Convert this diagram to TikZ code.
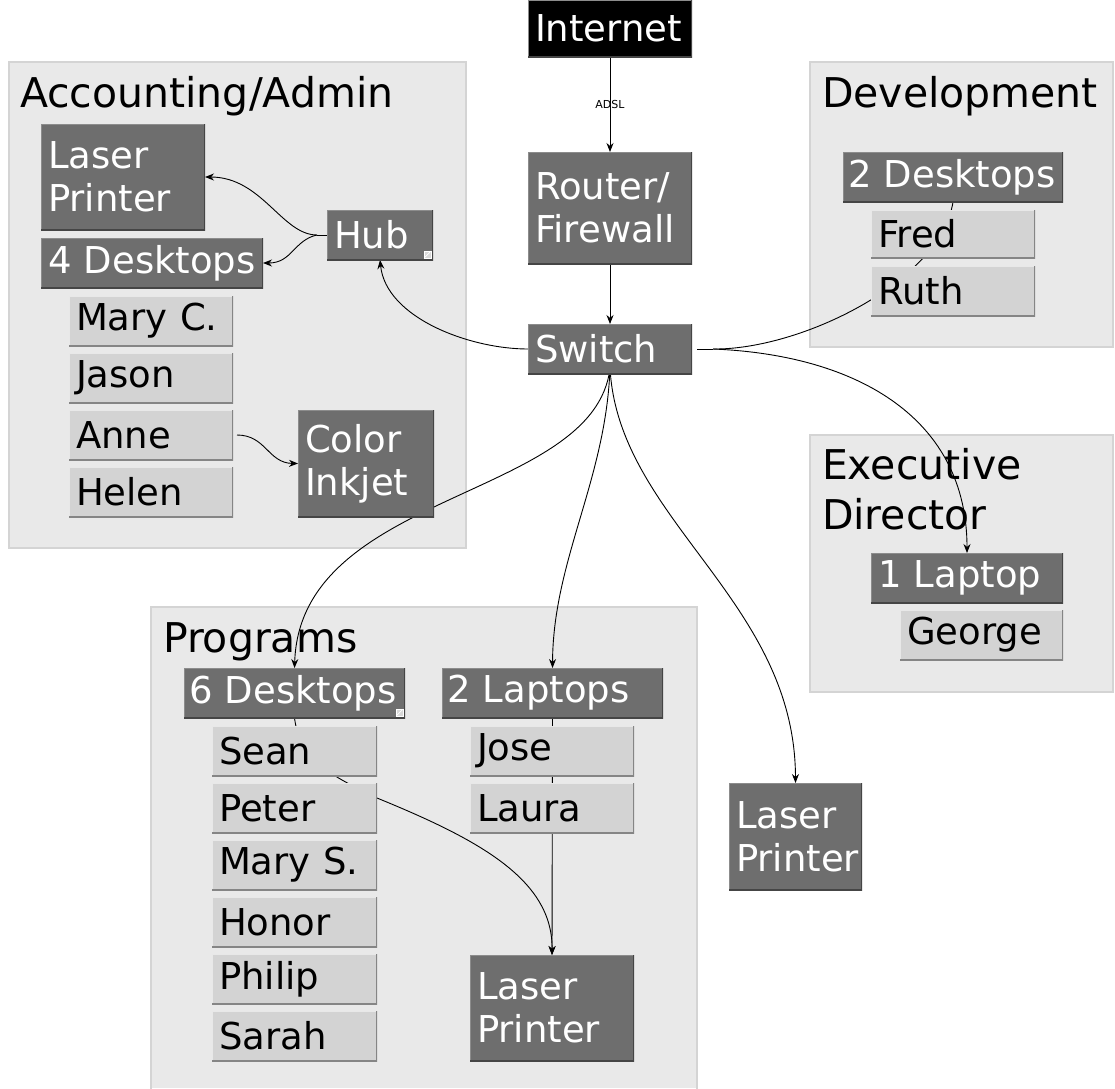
\documentclass[tikz,border=0pt]{standalone}
\usepackage{fontspec}
\setmainfont{DejaVu Sans}
\usetikzlibrary{arrows.meta}
\pgfdeclarelayer{bg}
\pgfdeclarelayer{mid}
\pgfsetlayers{bg,mid,main}
\definecolor{grpfill}{HTML}{E9E9E9}
\definecolor{grpline}{HTML}{D4D4D4}
\definecolor{dnode}{HTML}{6E6E6E}
\definecolor{dhigh}{HTML}{8C8C8C}
\definecolor{dshade}{HTML}{454545}
\definecolor{lnode}{HTML}{D3D3D3}
\definecolor{lhigh}{HTML}{E8E8E8}
\definecolor{lshade}{HTML}{858585}
\tikzset{
  grp/.style={fill=grpfill, draw=grpline, line width=1.5pt},
  grptitle/.style={anchor=base west, inner sep=0pt, outer sep=0pt, align=left, font=\fontsize{41}{50}\selectfont},
  basebox/.style={anchor=north west, inner xsep=7pt, inner ysep=0pt, outer sep=0pt, align=left, font=\fontsize{37}{43}\selectfont},
  dark/.style={basebox, fill=dnode, text=white, path picture={
      \draw[line width=2.5pt, color=dhigh] (path picture bounding box.south west) -- (path picture bounding box.north west) -- (path picture bounding box.north east);
      \draw[line width=3pt, color=dshade] (path picture bounding box.south west) -- (path picture bounding box.south east) -- (path picture bounding box.north east);}},
  light/.style={basebox, fill=lnode, text=black, path picture={
      \draw[line width=2.5pt, color=lhigh] (path picture bounding box.south west) -- (path picture bounding box.north west) -- (path picture bounding box.north east);
      \draw[line width=3pt, color=lshade] (path picture bounding box.south west) -- (path picture bounding box.south east) -- (path picture bounding box.north east);}},
  narrow/.style={inner xsep=5pt},
  conn/.style={line width=0.9pt, draw=black, -{Stealth[length=9pt,width=7pt]}},
  plain/.style={line width=0.9pt, draw=black},
  adsl/.style={font=\fontsize{11}{12}\selectfont, inner sep=0pt},
  resize/.style={draw=white, fill=gray!30, line width=0.7pt}
}
\begin{document}
\begin{tikzpicture}[x=1pt,y=-1pt]
\useasboundingbox (0,0) rectangle (1115,1088);

\begin{pgfonlayer}{bg}
\fill[white] (0,0) rectangle (1115,1088);
% group panels
\draw[grp] (9,62) rectangle (466,548);
\draw[grp] (810,62) rectangle (1113,347);
\draw[grp] (810,435) rectangle (1113,692);
\fill[grpfill] (151,607) rectangle (697,1088);
\draw[grpline, line width=1.5pt] (151,1090) -- (151,607) -- (697,607) -- (697,1090);
% titles
\node[grptitle] (tacc) at (20,107) {Accounting/Admin};
\node[grptitle] (tdev) at (822,107) {Development};
\node[grptitle] (tprog) at (163,652) {Programs};
\node[grptitle, anchor=north west] (texec) at (822,448) {Executive\\Director};
\end{pgfonlayer}

% boxes
\path
  node[dark, fill=black, text width=150pt, minimum height=57pt] (inet) at (528,0) {Internet}
  node[dark, text width=150pt, minimum height=112pt] (router) at (528,152) {Router/\\Firewall}
  node[dark, text width=150pt, minimum height=50pt] (switch) at (528,324) {Switch}
  node[dark, text width=150pt, minimum height=106pt] (alaser) at (41,124) {Laser\\Printer}
  node[dark, text width=208pt, minimum height=50pt] (d4) at (41,238) {4 Desktops}
  node[dark, text width=92pt, minimum height=50pt] (hub) at (327,210) {Hub}
  node[light, text width=150pt, minimum height=50pt] (maryc) at (69,296) {Mary C.}
  node[light, text width=150pt, minimum height=50pt] (jason) at (69,353) {Jason}
  node[light, text width=150pt, minimum height=50pt] (anne) at (69,410) {Anne}
  node[light, text width=150pt, minimum height=50pt] (helen) at (69,467) {Helen}
  node[dark, text width=122pt, minimum height=107pt] (inkjet) at (298,410) {Color\\Inkjet}
  node[dark, narrow, text width=210pt, minimum height=50pt] (d2) at (843,152) {2 Desktops}
  node[light, text width=150pt, minimum height=48pt] (fred) at (871,210) {Fred}
  node[light, text width=150pt, minimum height=50pt] (ruth) at (871,266) {Ruth}
  node[dark, text width=178pt, minimum height=50pt] (l1) at (871,553) {1 Laptop}
  node[light, text width=149pt, minimum height=50pt] (george) at (900,610) {George}
  node[dark, narrow, text width=211pt, minimum height=50pt] (d6) at (184,668) {6 Desktops}
  node[light, text width=151pt, minimum height=50pt] (sean) at (212,726) {Sean}
  node[light, text width=151pt, minimum height=50pt] (peter) at (212,783) {Peter}
  node[light, text width=151pt, minimum height=50pt] (marys) at (212,840) {Mary S.}
  node[light, text width=151pt, minimum height=50pt] (honor) at (212,897) {Honor}
  node[light, text width=151pt, minimum height=50pt] (philip) at (212,954) {Philip}
  node[light, text width=151pt, minimum height=50pt] (sarah) at (212,1011) {Sarah}
  node[dark, narrow, text width=211pt, minimum height=50pt] (l2) at (442,668) {2 Laptops}
  node[light, text width=150pt, minimum height=50pt] (jose) at (470,726) {Jose}
  node[light, text width=150pt, minimum height=50pt] (laura) at (470,783) {Laura}
  node[dark, text width=150pt, minimum height=106pt] (plaser) at (470,955) {Laser\\Printer}
  node[dark, text width=119pt, minimum height=107pt] (rlaser) at (729,783) {Laser\\Printer};

% resize grips
\draw[resize] ([shift={(-9,-9)}]hub.south east) rectangle ++(7,7);
\draw[white, line width=0.7pt] ([shift={(-8,-3)}]hub.south east) -- ++(5,-5);
\draw[resize] ([shift={(-9,-9)}]d6.south east) rectangle ++(7,7);
\draw[white, line width=0.7pt] ([shift={(-8,-3)}]d6.south east) -- ++(5,-5);

% connectors, behind the boxes
\begin{pgfonlayer}{mid}
\draw[conn] (inet) -- node[adsl] (adsl) {ADSL} (router);
\draw[conn] (router) -- (switch);
\draw[conn] (switch.west) .. controls (470,349) and (386,318) .. (hub.south);
\draw[plain] (hub.west) -- ++(-10,0) coordinate (hubsplit);
\draw[conn] (hubsplit) .. controls (282,235) and (262,177) .. (alaser.east);
\draw[conn] (hubsplit) .. controls (294,240) and (292,263) .. (d4.east);
\draw[conn] ([xshift=4pt]anne.east) .. controls (266,435) and (268,463) .. (inkjet.west);
\draw[conn] ([yshift=6pt]switch.south) .. controls (595,500) and (300,490) .. (d6.north);
\draw[conn] ([yshift=6pt]switch.south) .. controls (606,480) and (553,560) .. (l2.north);
\draw[conn] ([yshift=6pt]switch.south) .. controls (618,520) and (795,600) .. (rlaser.north);
\draw[plain] ([xshift=5pt]switch.east) -- ++(16,0) coordinate (swsplit);
\draw[conn] (swsplit) .. controls (860,355) and (967,420) .. (l1.north);
\draw[plain] (swsplit) .. controls (800,350) and (940,282) .. (d2.south);
\draw[conn] (l2.south) -- (plaser.north);
\coordinate (peterexit) at (377,798);
\draw[conn] (d6.south) .. controls (300,760) and (330,775) .. (peterexit) .. controls (480,840) and (553,880) .. (plaser.north);
\end{pgfonlayer}
\end{tikzpicture}
\end{document}
